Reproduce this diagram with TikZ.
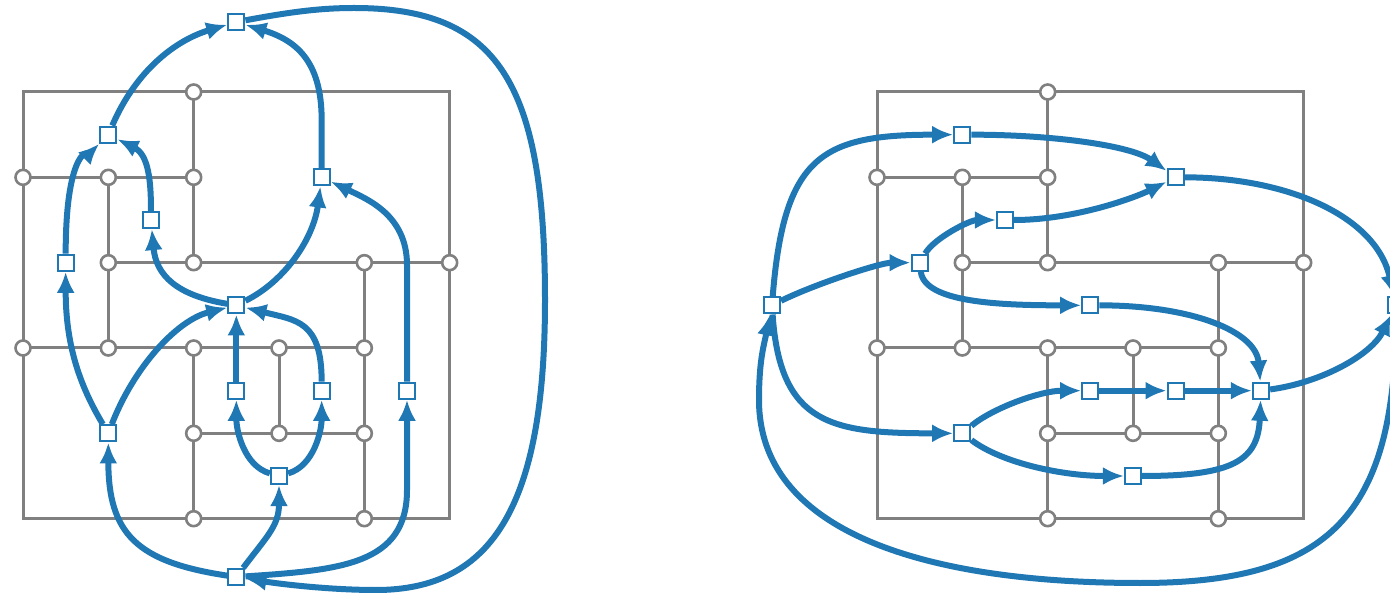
\documentclass[tikz,border=0pt]{standalone}
\usetikzlibrary{arrows.meta}
\definecolor{tabblue}{HTML}{1F77B4}
\definecolor{gridgray}{HTML}{808080}
\pgfdeclarelayer{bg}
\pgfdeclarelayer{mid}
\pgfsetlayers{bg,mid,main}
\tikzset{
  gridline/.style={draw=gridgray,line width=3pt},
  vtx/.style={circle,draw=gridgray,line width=2.6pt,fill=white,minimum size=15pt,inner sep=0pt},
  face/.style={rectangle,draw=tabblue,line width=2.2pt,fill=white,minimum size=16pt,inner sep=0pt},
  flow/.style={draw=tabblue,line width=6pt,-{Latex[length=21pt,width=18pt]}},
}
\newcommand\mygrid[2]{%
  \begin{scope}[xshift=#2pt,yshift=-92pt,x=85.333pt,y=-85.333pt]
    \begin{pgfonlayer}{bg}
      \draw[gridline] (0,0) rectangle (5,5);
      \draw[gridline] (2,0)--(2,2) (0,1)--(2,1) (1,1)--(1,3) (1,2)--(5,2)
        (0,3)--(4,3) (4,2)--(4,5) (2,3)--(2,5) (3,3)--(3,4) (2,4)--(4,4);
      \foreach \i/\j [count=\n] in {2/0,0/1,1/1,2/1,1/2,2/2,4/2,5/2,0/3,1/3,2/3,3/3,4/3,2/4,3/4,4/4,2/5,4/5}
        \node[vtx] (#1\n) at (\i,\j) {};
    \end{pgfonlayer}
  \end{scope}}
\begin{document}
\begin{tikzpicture}[x=1pt,y=-1pt]
\useasboundingbox (0,0) rectangle (1390,593);
\mygrid{lv}{23}
\mygrid{rv}{877}
% left faces
\node[face] (A) at (236.33,22) {};
\node[face] (B) at (108.33,134.67) {};
\node[face] (C) at (321.67,177.33) {};
\node[face] (D) at (151,220) {};
\node[face] (E) at (65.67,262.67) {};
\node[face] (F) at (236.33,305.33) {};
\node[face] (G) at (236.33,390.67) {};
\node[face] (H) at (321.67,390.67) {};
\node[face] (I) at (407,390.67) {};
\node[face] (J) at (108.33,433.33) {};
\node[face] (K) at (279,476) {};
\node[face] (L) at (236.33,577) {};
% right faces
\node[face] (P) at (772,305.33) {};
\node[face] (Q) at (962.33,134.67) {};
\node[face] (R) at (1175.67,177.33) {};
\node[face] (S) at (1005,220) {};
\node[face] (T) at (919.67,262.67) {};
\node[face] (U) at (1090.33,305.33) {};
\node[face] (V) at (1396,305.33) {};
\node[face] (W) at (1090.33,390.67) {};
\node[face] (X) at (1175.67,390.67) {};
\node[face] (Y) at (1261,390.67) {};
\node[face] (Z) at (962.33,433.33) {};
\node[face] (AA) at (1133,476) {};
\begin{pgfonlayer}{mid}
% left edges
\draw[flow] (B) .. controls +(28,-65) and +(-60,18) .. (A);
\draw[flow] (C) -- (321.67,120) .. controls (321.67,60) and (295,40) .. (A);
\draw[flow] (E) .. controls +(0,-120) and +(-15,15) .. (B);
\draw[flow] (D) .. controls +(0,-40) and +(40,20) .. (B);
\draw[flow] (F) .. controls +(-60,-10) and +(5,55) .. (D);
\draw[flow] (F) .. controls +(50,-25) and +(-8,60) .. (C);
\draw[flow] (J) .. controls +(-30,-50) and +(0,80) .. (E);
\draw[flow] (J) .. controls +(25,-65) and +(-60,15) .. (F);
\draw[flow] (G) -- (F);
\draw[flow] (H) .. controls +(0,-70) and +(60,15) .. (F);
\draw[flow] (K) .. controls +(-35,-10) and +(0,40) .. (G);
\draw[flow] (K) .. controls +(35,-10) and +(0,40) .. (H);
\draw[flow] (L) .. controls +(-100,-15) and +(0,100) .. (J);
\draw[flow] (L) .. controls +(30,-40) and +(0,50) .. (K);
\draw[flow] (L) .. controls (340,570) and (407,565) .. (407,490) -- (I);
\draw[flow] (I) -- (407,265) .. controls (407,215) and (367,199) .. (C);
\draw[flow] (A) .. controls (290,12) and (320,8) .. (354,8)
  .. controls (497,8) and (545,81) .. (545,300)
  .. controls (545,503) and (494,590) .. (376,590)
  .. controls (330,590) and (280,584) .. (L);
% right edges
\draw[flow] (P) .. controls +(12,-150) and +(-140,0) .. (Q);
\draw[flow] (P) .. controls +(40,-20) and +(-40,0) .. (T);
\draw[flow] (P) .. controls +(8,120) and +(-130,0) .. (Z);
\draw[flow] (V) .. controls +(0,210) and (1330,583) .. (1140,583)
  .. controls (920,583) and (759,530) .. (759,400)
  .. controls (759,360) and (764,345) .. (P);
\draw[flow] (Q) .. controls +(90,0) and +(-45,-32) .. (R);
\draw[flow] (S) .. controls +(70,0) and +(-40,20) .. (R);
\draw[flow] (T) .. controls +(15,-25) and +(-35,0) .. (S);
\draw[flow] (T) .. controls +(5,40) and +(-90,0) .. (U);
\draw[flow] (R) .. controls +(110,0) and +(-20,-90) .. (V);
\draw[flow] (U) .. controls +(100,0) and +(-5,-60) .. (Y);
\draw[flow] (Z) .. controls +(30,-25) and +(-50,0) .. (W);
\draw[flow] (W) -- (X);
\draw[flow] (X) -- (Y);
\draw[flow] (Z) .. controls +(40,30) and +(-70,0) .. (AA);
\draw[flow] (AA) .. controls +(100,0) and +(-3,70) .. (Y);
\draw[flow] (Y) .. controls +(60,-8) and +(-25,50) .. (V);
\end{pgfonlayer}
\end{tikzpicture}
\end{document}
